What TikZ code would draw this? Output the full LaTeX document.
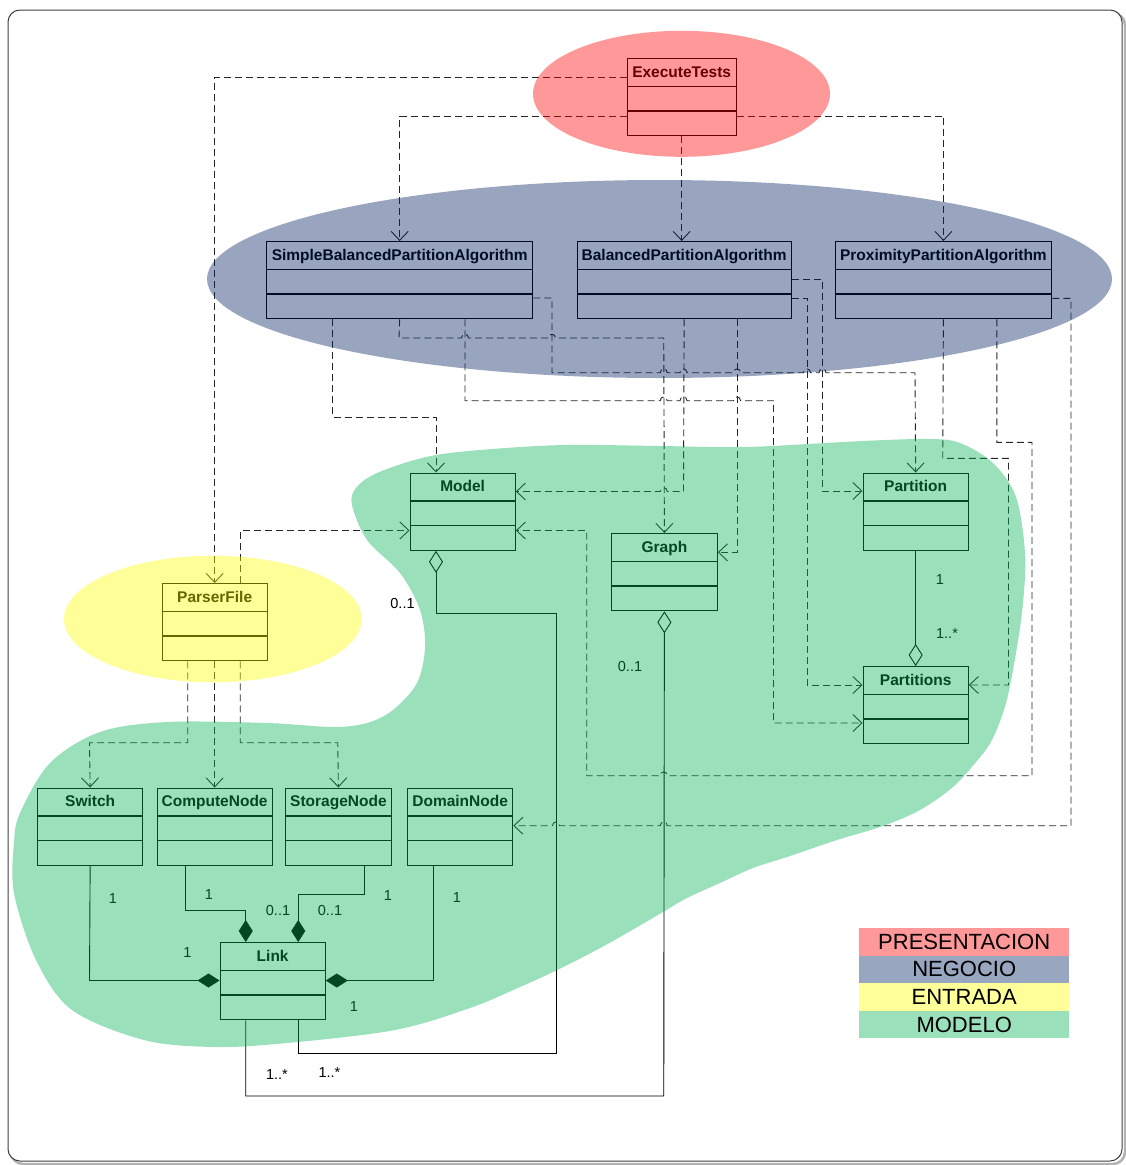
\documentclass[tikz,border=0pt]{standalone}
\usepackage{fontspec}
\setmainfont{Liberation Sans}
\usetikzlibrary{arrows.meta}

\definecolor{presc}{RGB}{255,0,0}
\definecolor{negc}{RGB}{0,32,96}
\definecolor{entc}{RGB}{255,255,0}
\definecolor{modc}{RGB}{0,178,85}

\tikzset{
  classbox/.style={draw=black, line width=1.3pt, minimum height=77pt, inner sep=0pt, anchor=north west, fill=white},
  classtitle/.style={font=\bfseries\fontsize{15.5}{18}\selectfont, anchor=base, inner sep=0pt},
  sepline/.style={line width=1.3pt},
  dep/.style={draw=black!85, line width=0.9pt, dash pattern=on 7pt off 4pt,
    -{Straight Barb[length=9pt,width=17pt,line width=0.9pt]}},
  assoc/.style={draw=black, line width=0.9pt},
  hollowdia/.tip={Diamond[open,length=22pt,width=14pt,line width=0.9pt]},
  soliddia/.tip={Diamond[length=22pt,width=14pt]},
  mult/.style={font=\fontsize{14.5}{16}\selectfont, inner sep=0pt},
  legendrow/.style={minimum width=210pt, minimum height=27.6pt, inner sep=0pt,
    font=\fontsize{22}{24}\selectfont, anchor=north west},
  tint/.style={fill opacity=0.4}
}

% UML class: name, left x, top y, width, title
\newcommand\umlclass[5]{%
  \node[classbox, minimum width=#4pt] (#1) at (#2,#3) {};
  \node[classtitle] (#1-name) at ([yshift=-19.3pt]#1.north) {#5};
  \draw[sepline] ([yshift=-28.5pt]#1.north west) -- ([yshift=-28.5pt]#1.north east);
  \draw[sepline] ([yshift=-53pt]#1.north west) -- ([yshift=-53pt]#1.north east);
}
% line jumps over a vertical line at x=#1 on a horizontal run at y=#2
\newcommand\hopr[2]{-- ({#1-3.5},#2) .. controls ({#1-3.5},{#2-5}) and ({#1+3.5},{#2-5}) .. ({#1+3.5},#2)}
\newcommand\hopl[2]{-- ({#1+3.5},#2) .. controls ({#1+3.5},{#2-5}) and ({#1-3.5},{#2-5}) .. ({#1-3.5},#2)}

\begin{document}
\begin{tikzpicture}[x=1pt,y=-1pt]
\useasboundingbox (0,0) rectangle (1126,1165);
\fill[white] (0,0) rectangle (1126,1165);
\draw[rounded corners=12pt, line width=2.5pt, black!30] (11,13) rectangle (1125,1164);
\draw[rounded corners=12pt, line width=1pt, black!75, fill=white] (8,10) rectangle (1122,1161);

% classes
\umlclass{ET}{626.5}{58}{109}{ExecuteTests}
\umlclass{SBPA}{266}{241}{266}{SimpleBalancedPartitionAlgorithm}
\umlclass{BPA}{576.5}{241}{214}{BalancedPartitionAlgorithm}
\umlclass{PPA}{834.5}{241}{216.5}{ProximityPartitionAlgorithm}
\umlclass{Model}{409.5}{472.5}{105}{Model}
\umlclass{Graph}{611}{533}{105.5}{Graph}
\umlclass{Partition}{862.5}{472.5}{105}{Partition}
\umlclass{Partitions}{862.5}{666}{105}{Partitions}
\umlclass{ParserFile}{161.5}{583}{105}{ParserFile}
\umlclass{Switch}{37}{787.5}{105}{Switch}
\umlclass{ComputeNode}{156.5}{787.5}{115}{ComputeNode}
\umlclass{StorageNode}{285}{787.5}{105.5}{StorageNode}
\umlclass{DomainNode}{407}{787.5}{105}{DomainNode}
\umlclass{Link}{219.5}{942}{105}{Link}

% dependencies from ExecuteTests
\draw[dep] ([yshift=-19pt]ET.north west) -| (ParserFile.north);
\draw[dep] ([yshift=-58pt]ET.north west) -| (SBPA.north);
\draw[dep] (ET.south) -- (ET.south |- BPA.north);
\draw[dep] ([yshift=-58pt]ET.north east) -| (PPA.north);

% dependencies from SimpleBalancedPartitionAlgorithm
\draw[dep] ([xshift=66.5pt]SBPA.south west) |- (436,417) -- ([xshift=26.5pt]Model.north west);
\draw[dep] (SBPA.south) -- (399,338) \hopr{465}{338} \hopr{552}{338} -- (663.75,338) -- (Graph.north);
\draw[dep] ([xshift=199pt]SBPA.south west) -- (465,400.7) \hopr{663.75}{400.7} \hopr{683.5}{400.7} \hopr{737}{400.7}
  -- (773.5,400.7) -- (773.5,723) -- ([yshift=-57pt]Partitions.north west);
\draw[dep] ([yshift=-57pt]SBPA.north east) -- (552,298) -- (552,372.7) \hopr{663.75}{372.7} \hopr{683.5}{372.7}
  \hopr{737}{372.7} \hopr{807}{372.7} \hopr{822.5}{372.7} -- (915,372.7) -- (Partition.north);

% dependencies from BalancedPartitionAlgorithm
\draw[dep] (BPA.south) -- (683.5,491.5) \hopl{663.75}{491.5} -- ([yshift=-19pt]Model.north east);
\draw[dep] ([xshift=160.5pt]BPA.south west) -- (737,552.3) -- ([yshift=-19.3pt]Graph.north east);
\draw[dep] ([yshift=-38.3pt]BPA.north east) -- (822.5,279.3) -- (822.5,491) -- ([yshift=-18.5pt]Partition.north west);
\draw[dep] ([yshift=-57.3pt]BPA.north east) -- (807,298.3) -- (807,685) -- ([yshift=-19pt]Partitions.north west);

% dependencies from ProximityPartitionAlgorithm
\draw[dep] (PPA.south) -- (942.75,458.3) -- (1008.5,458.3) -- (1008.5,685) -- ([yshift=-19pt]Partitions.north east);
\draw[dep] ([xshift=162.4pt]PPA.south west) -- (996.9,442.3) -- (1032,442.3) -- (1032,775.7) \hopl{663.75}{775.7}
  -- (586.7,775.7) -- (586.7,530.5) -- ([yshift=-58pt]Model.north east);
\draw[dep] ([yshift=-57.3pt]PPA.north east) -- (1071,298.3) -- (1071,825.7) \hopl{663.75}{825.7} \hopl{556}{825.7}
  -- ([yshift=-38.2pt]DomainNode.north east);

% dependencies from ParserFile
\draw[dep] ([xshift=26.25pt]ParserFile.south west) -- (187.75,742.7) -- (89.5,742.7) -- (Switch.north);
\draw[dep] (ParserFile.south) -- (ComputeNode.north);
\draw[dep] ([xshift=78.75pt]ParserFile.south west) -- (240.25,742.7) -- (337.75,742.7) -- (StorageNode.north);
\draw[dep] ([xshift=78.75pt]ParserFile.north west) -- (240.25,530.5) -- ([yshift=-58pt]Model.north west);

% aggregations and compositions
\draw[assoc, hollowdia-] ([xshift=26.5pt]Model.south west) -- (436,613.3) -- (556,613.3) -- (556,1053)
  -- (298.25,1053) -- ([xshift=78.75pt]Link.south west);
\draw[assoc, hollowdia-] (Graph.south) -- (663.75,1096) -- (245.75,1096) -- ([xshift=26.25pt]Link.south west);
\draw[assoc, -hollowdia] (Partition.south) -- (Partitions.north);
\draw[assoc, -soliddia] (Switch.south) -- (89.5,980.5) -- ([yshift=-38.5pt]Link.north west);
\draw[assoc, -soliddia] ([xshift=28.75pt]ComputeNode.south west) -- (185.25,910)
  -- (245.75,910) -- ([xshift=26.25pt]Link.north west);
\draw[assoc, -soliddia] ([xshift=79.1pt]StorageNode.south west) -- (364.1,894.3)
  -- (298.25,894.3) -- ([xshift=78.75pt]Link.north west);
\draw[assoc, -soliddia] ([xshift=26.25pt]DomainNode.south west) -- (433.25,980.5)
  -- ([yshift=-38.5pt]Link.north east);

% multiplicities
\node[mult] (m1) at (402.5,604) {0..1};
\node[mult] (m2) at (630,666.5) {0..1};
\node[mult] (m3) at (940,579.5) {1};
\node[mult] (m4) at (947,634) {1..*};
\node[mult] (m5) at (113,898.5) {1};
\node[mult] (m6) at (209,894.5) {1};
\node[mult] (m7) at (278,910) {0..1};
\node[mult] (m8) at (330,910) {0..1};
\node[mult] (m9) at (388,896) {1};
\node[mult] (m10) at (457,898) {1};
\node[mult] (m11) at (187.5,952.5) {1};
\node[mult] (m12) at (354,1006.5) {1};
\node[mult] (m13) at (277,1074) {1..*};
\node[mult] (m14) at (329.5,1072.5) {1..*};

% layer regions
\fill[presc, tint] (681.5,93.8) ellipse [x radius=148.5pt, y radius=63pt];
\fill[negc, tint] (659.5,279) ellipse [x radius=452.5pt, y radius=99pt];
\fill[entc, tint] (212.8,619) ellipse [x radius=148.8pt, y radius=63.3pt];
\fill[modc, tint] plot[smooth cycle, tension=0.55] coordinates {
  (352,505) (356,488) (377,473) (426,457) (480,450) (564,445) (660,446) (747,447)
  (862,441) (929,439) (960,443) (993,463) (1016,497) (1025,553) (1023,603) (1016,653)
  (1006,703) (992,740) (976,762) (953,787) (920,810) (883,826) (837,840) (787,857)
  (753,868) (720,883) (687,898) (663,912) (620,937) (587,955) (553,972) (520,987)
  (470,1008) (395,1030) (287,1043) (215,1047) (144,1040) (72,1010)
  (36,960) (14,893) (14,843) (20,813) (50,763) (100,732) (167,722) (267,723) (333,727)
  (367,723) (393,710) (417,683) (425,647) (420,610) (400,573) (367,540)};

% legend
\node[legendrow, fill=presc!40] (lg1) at (859,927.7) {PRESENTACION};
\node[legendrow, fill=negc!40] (lg2) at (859,955.3) {NEGOCIO};
\node[legendrow, fill=entc!40] (lg3) at (859,982.9) {ENTRADA};
\node[legendrow, fill=modc!40] (lg4) at (859,1010.5) {MODELO};
\end{tikzpicture}
\end{document}
